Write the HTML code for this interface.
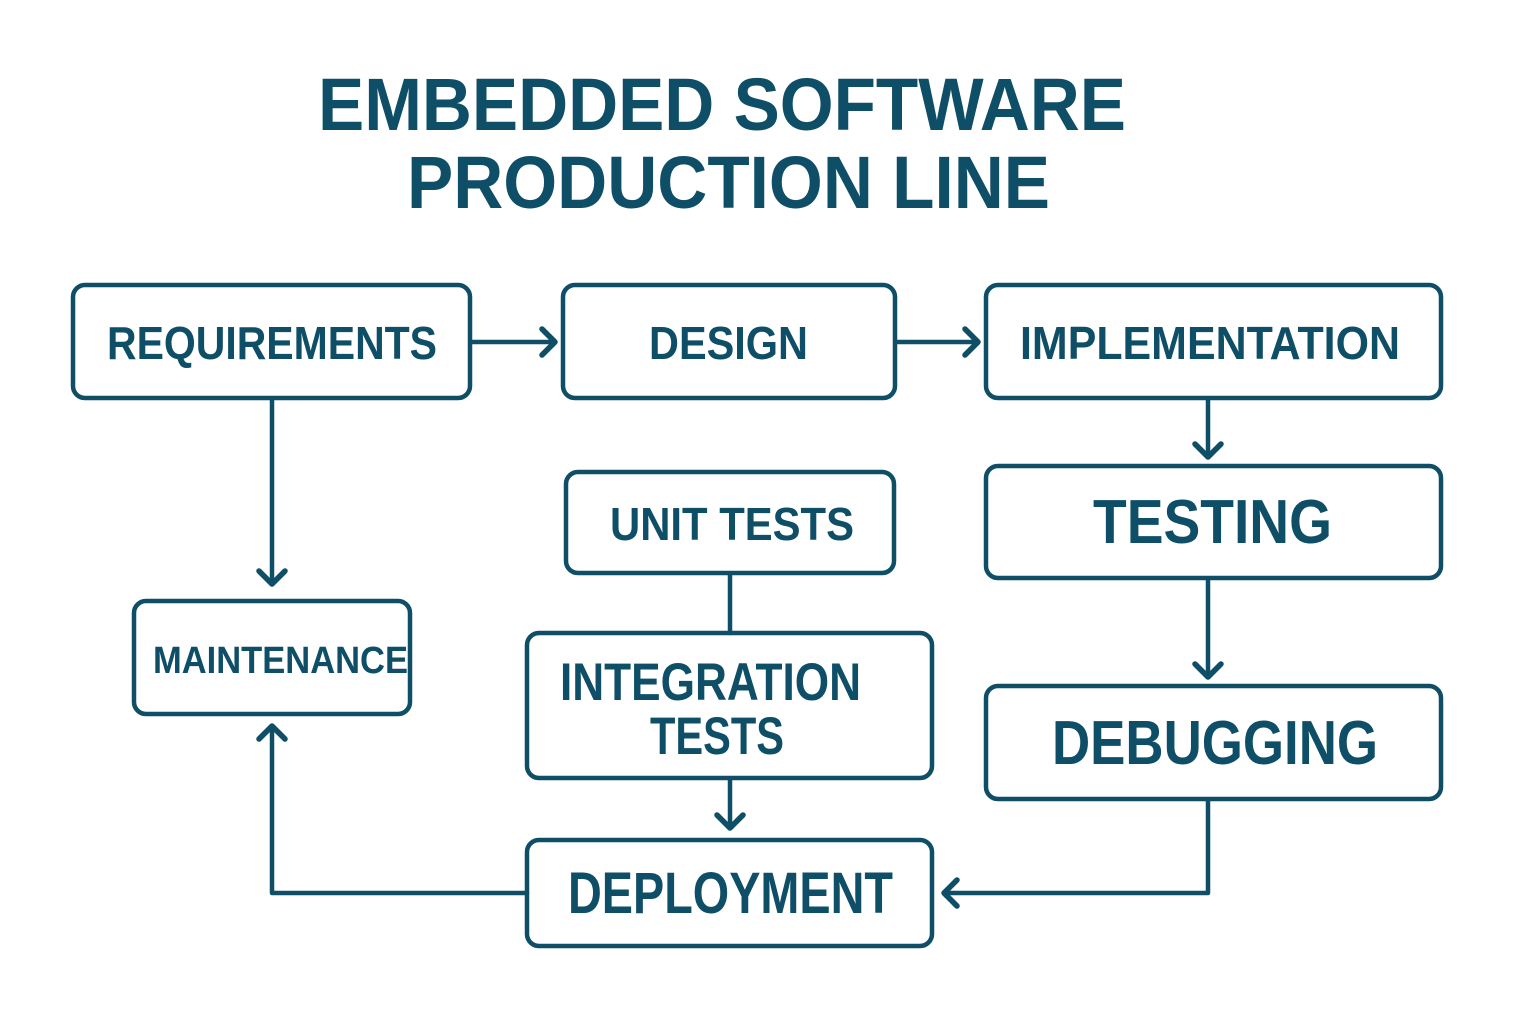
<!DOCTYPE html>
<html><head><meta charset="utf-8"><style>html,body{margin:0;padding:0;background:#fff}svg{display:block}</style></head>
<body>
<svg width="1536" height="1024" viewBox="0 0 1536 1024" xmlns="http://www.w3.org/2000/svg">
<g font-family="Liberation Sans, sans-serif" font-weight="bold" fill="#0e4e66">
<text x="318" y="130" font-size="74" textLength="808" lengthAdjust="spacingAndGlyphs">EMBEDDED SOFTWARE</text>
<text x="407" y="208" font-size="74" textLength="643" lengthAdjust="spacingAndGlyphs">PRODUCTION LINE</text>
</g>
<g fill="none" stroke="#0e4e66" stroke-width="4.5">
<rect x="73" y="285" width="397" height="113" rx="12"/>
<rect x="563" y="285" width="332" height="113" rx="12"/>
<rect x="986" y="285" width="455" height="113" rx="12"/>
<rect x="566" y="472" width="328" height="101" rx="12"/>
<rect x="986" y="466" width="455" height="112" rx="12"/>
<rect x="134" y="601" width="276" height="113" rx="12"/>
<rect x="527" y="633" width="405" height="145" rx="12"/>
<rect x="986" y="686" width="455" height="113" rx="12"/>
<rect x="527" y="840" width="405" height="106" rx="12"/>
</g>
<g fill="none" stroke="#0e4e66" stroke-width="4.5" stroke-linecap="round" stroke-linejoin="round">
<path d="M472 342 H554"/><path d="M542 329 L555 342 L542 355" stroke-width="5.5"/>
<path d="M897 342 H977"/><path d="M965 329 L978 342 L965 355" stroke-width="5.5"/>
<path d="M1208 400 V456"/><path d="M1195 444 L1208 457 L1221 444" stroke-width="5.5"/>
<path d="M272 400 V583"/><path d="M259 571 L272 584 L285 571" stroke-width="5.5"/>
<path d="M730 574 V633"/>
<path d="M730 780 V827"/><path d="M717 815 L730 828 L743 815" stroke-width="5.5"/>
<path d="M1208 580 V676"/><path d="M1195 664 L1208 677 L1221 664" stroke-width="5.5"/>
<path d="M1208 800 V893 H945"/><path d="M957 880 L944 893 L957 906" stroke-width="5.5"/>
<path d="M527 893 H272 V727"/><path d="M259 739 L272 726 L285 739" stroke-width="5.5"/>
</g>
<g font-family="Liberation Sans, sans-serif" font-weight="bold" fill="#0e4e66">
<text x="107" y="359" font-size="46" textLength="330" lengthAdjust="spacingAndGlyphs">REQUIREMENTS</text>
<text x="649" y="359" font-size="46" textLength="159" lengthAdjust="spacingAndGlyphs">DESIGN</text>
<text x="1020" y="359" font-size="46" textLength="380" lengthAdjust="spacingAndGlyphs">IMPLEMENTATION</text>
<text x="610" y="540" font-size="46" textLength="244" lengthAdjust="spacingAndGlyphs">UNIT TESTS</text>
<text x="1093" y="543" font-size="62" textLength="239" lengthAdjust="spacingAndGlyphs">TESTING</text>
<text x="153" y="673" font-size="38" textLength="255" lengthAdjust="spacingAndGlyphs">MAINTENANCE</text>
<text x="560" y="700" font-size="53" textLength="301" lengthAdjust="spacingAndGlyphs">INTEGRATION</text>
<text x="650" y="754" font-size="53" textLength="134" lengthAdjust="spacingAndGlyphs">TESTS</text>
<text x="1052" y="764" font-size="62" textLength="326" lengthAdjust="spacingAndGlyphs">DEBUGGING</text>
<text x="568" y="913" font-size="58" textLength="325" lengthAdjust="spacingAndGlyphs">DEPLOYMENT</text>
</g>
</svg>
</body></html>
